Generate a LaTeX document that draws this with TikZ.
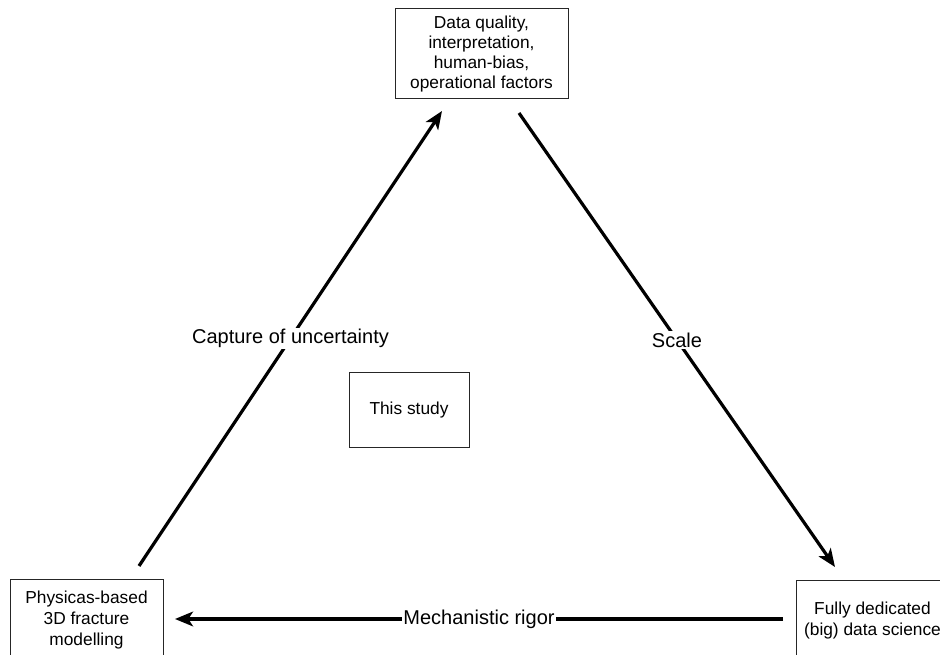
\documentclass[tikz,border=0pt]{standalone}
\usepackage{fontspec}
\setmainfont{Liberation Sans}
\usetikzlibrary{arrows.meta}
\tikzset{
    box/.style={
        rectangle,
        draw=black!85,
        line width=0.75pt,
        fill=white,
        align=center,
        inner sep=2pt,
        font=\fontsize{13}{15.75}\selectfont
    },
    tightbox/.style={
        box,
        font=\fontsize{13}{14.8}\selectfont
    },
    arr/.style={line width=2.4pt,-{Stealth[length=13.5pt,width=11pt,inset=3.5pt]}},
    lab/.style={fill=white,inner sep=1pt,font=\fontsize{15}{18}\selectfont}
}

\begin{document}
\begin{tikzpicture}[x=0.75pt,y=-0.75pt]
\path[use as bounding box,clip] (0,0) rectangle (940,655);

\node[tightbox,minimum width=129.75pt,minimum height=67.5pt] (factors) at (481.5,54)
    {Data quality,\\interpretation,\\human-bias,\\operational factors};
\node[box,minimum width=90pt,minimum height=56.25pt] (study) at (409,410.5) {This study};
\node[box,minimum width=114.75pt,minimum height=60pt] (physics) at (86.5,620)
    {Physicas-based\\3D fracture\\modelling};
\node[box,minimum width=114.75pt,minimum height=60pt] (datasci) at (872.5,621)
    {Fully dedicated\\(big) data science};

% arrow ends, kept clear of the boxes
\coordinate (p1) at (139,566);
\coordinate (p2) at (442,111);
\coordinate (p3) at (519,113);
\coordinate (p4) at (835,567);
\coordinate (p5) at (783,619);
\coordinate (p6) at (175,619);

\draw[arr] (p1) -- node[lab] (uncert) {Capture of uncertainty} (p2);
\draw[arr] (p3) -- node[lab] (scale) {Scale} (p4);
\draw[arr] (p5) -- node[lab] (rigor) {Mechanistic rigor} (p6);
\end{tikzpicture}
\end{document}
